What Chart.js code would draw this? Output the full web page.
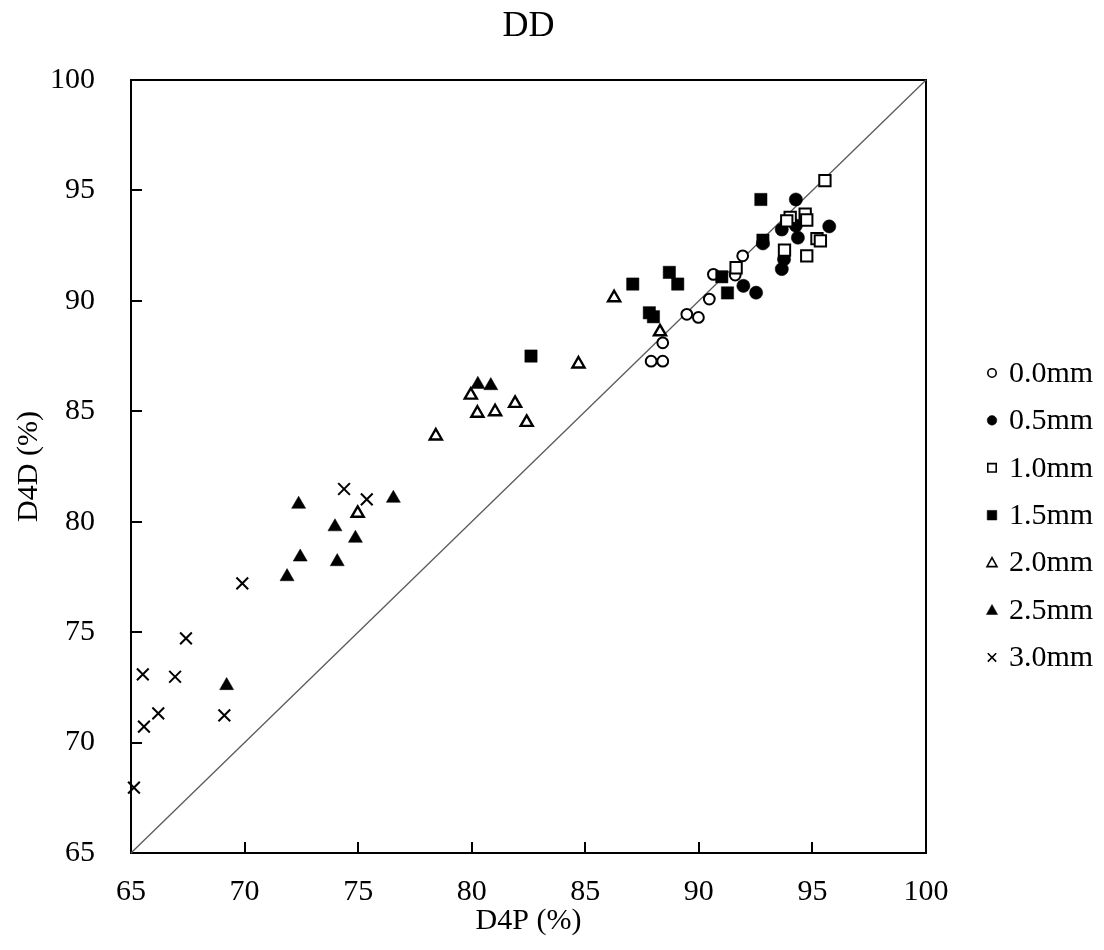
<!DOCTYPE html>
<html><head><meta charset="utf-8">
<script src="https://cdn.jsdelivr.net/npm/chart.js@4.4.0/dist/chart.umd.min.js"></script>
<style>html,body{margin:0;padding:0;background:#fff;}</style>
</head><body>
<canvas id="c" width="1104" height="950"></canvas>
<script>
// ---- data ----
const chartTitle = "DD";
const xTitle = "D4P (%)";
const yTitle = "D4D (%)";
const axisMin = 65, axisMax = 100, axisStep = 5;
const seriesLabels = ["0.0mm","0.5mm","1.0mm","1.5mm","2.0mm","2.5mm","3.0mm"];

const d4p_00 = [91.93, 91.60, 90.64, 90.46, 89.47, 89.98, 88.41, 87.90, 88.41];
const d4d_00 = [92.04, 91.17, 91.20, 90.08, 89.39, 89.25, 88.10, 87.27, 87.27];

const d4p_05 = [94.27, 93.65, 94.27, 94.36, 95.74, 92.82, 93.75, 93.65, 91.96, 92.52];
const d4d_05 = [94.59, 93.23, 93.41, 92.86, 93.37, 92.60, 91.88, 91.44, 90.68, 90.37];

const d4p_10 = [95.55, 94.02, 93.87, 94.68, 94.75, 95.20, 95.35, 93.77, 94.75, 91.64];
const d4d_10 = [95.44, 93.78, 93.62, 93.93, 93.66, 92.82, 92.72, 92.30, 92.04, 91.50];

const d4p_15 = [92.73, 92.82, 91.01, 91.26, 87.09, 88.70, 89.07, 87.82, 88.00, 82.61];
const d4d_15 = [94.59, 92.75, 91.09, 90.36, 90.76, 91.29, 90.76, 89.46, 89.28, 87.50];

const d4p_20 = [88.29, 86.27, 84.70, 79.96, 81.91, 80.25, 81.03, 82.42, 78.42, 74.98];
const d4d_20 = [88.60, 90.14, 87.14, 85.73, 85.36, 84.91, 84.98, 84.50, 83.88, 80.38];

const d4p_25 = [80.27, 80.84, 76.55, 72.38, 73.98, 74.88, 72.45, 74.08, 71.87, 69.21];
const d4d_25 = [86.22, 86.16, 81.06, 80.79, 79.77, 79.25, 78.40, 78.19, 77.51, 72.58];

const d4p_30 = [74.38, 75.38, 69.90, 67.42, 65.52, 66.94, 66.20, 69.11, 65.57, 65.13];
const d4d_30 = [81.48, 81.01, 77.21, 74.72, 73.09, 72.98, 71.32, 71.23, 70.72, 67.96];

const diagX = [65, 100];
const diagY = [65, 100];

// ---- styles ----
const FONT = '"Liberation Serif", "Times New Roman", serif';
const seriesX = [d4p_00, d4p_05, d4p_10, d4p_15, d4p_20, d4p_25, d4p_30];
const seriesY = [d4d_00, d4d_05, d4d_10, d4d_15, d4d_20, d4d_25, d4d_30];
const styles = [
  {ps:'circle',   bg:'#ffffff', bc:'#000000', bw:2,   r:5.4, lr:4.2},
  {ps:'circle',   bg:'#000000', bc:'#000000', bw:0.5, r:6.6, lr:4.8},
  {ps:'rect',     bg:'#ffffff', bc:'#000000', bw:2,   r:8.0, lr:4.2},
  {ps:'rect',     bg:'#000000', bc:'#000000', bw:0.5, r:8.7, lr:4.8},
  {ps:'triangle', bg:'#ffffff', bc:'#000000', bw:2.4, r:7.0, lr:5.0},
  {ps:'triangle', bg:'#000000', bc:'#000000', bw:0.5, r:8.1, lr:5.6},
  {ps:'crossRot', bg:'#000000', bc:'#000000', bw:2,   r:8.3, lr:5.6}
];

const toPts = (xs, ys) => xs.map((v, i) => ({x: v, y: ys[i]}));

const datasets = [{
  label: '_diag',
  data: toPts(diagX, diagY),
  showLine: true, borderColor: '#5a5a5a', borderWidth: 1.3,
  pointRadius: 0, order: 100, clip: false
}];
seriesLabels.forEach((lab, i) => {
  const s = styles[i];
  datasets.push({
    label: lab,
    data: toPts(seriesX[i], seriesY[i]),
    pointStyle: s.ps, pointRadius: s.r, pointHoverRadius: s.r,
    pointBackgroundColor: s.bg, pointBorderColor: s.bc, pointBorderWidth: s.bw,
    backgroundColor: s.bg, borderColor: s.bc,
    showLine: false, order: seriesLabels.length - i, clip: false
  });
});

function drawMarker(ctx, s, x, y) {
  const r = s.lr;
  ctx.save();
  ctx.beginPath();
  ctx.fillStyle = s.bg; ctx.strokeStyle = s.bc;
  ctx.lineWidth = s.ps === 'crossRot' ? 1.6 : (s.bg === '#ffffff' ? 1.6 : 0.5);
  if (s.ps === 'circle') { ctx.arc(x, y, r, 0, Math.PI * 2); ctx.fill(); ctx.stroke(); }
  else if (s.ps === 'rect') { ctx.rect(x - r, y - r, 2 * r, 2 * r); ctx.fill(); ctx.stroke(); }
  else if (s.ps === 'triangle') {
    ctx.moveTo(x, y - r); ctx.lineTo(x + r, y + r * 0.8); ctx.lineTo(x - r, y + r * 0.8); ctx.closePath();
    ctx.fill(); ctx.stroke();
  } else {
    const d = r * 0.75;
    ctx.moveTo(x - d, y - d); ctx.lineTo(x + d, y + d);
    ctx.moveTo(x + d, y - d); ctx.lineTo(x - d, y + d); ctx.stroke();
  }
  ctx.restore();
}

const framePlugin = {
  id: 'framePlugin',
  beforeDatasetsDraw(chart) {
    const {ctx, chartArea: a, scales} = chart;
    ctx.save();
    ctx.strokeStyle = '#000'; ctx.lineWidth = 2;
    ctx.strokeRect(a.left, a.top, a.right - a.left, a.bottom - a.top);
    ctx.lineWidth = 2;
    ctx.beginPath();
    scales.x.ticks.forEach(t => {
      const px = Math.round(scales.x.getPixelForValue(t.value));
      ctx.moveTo(px, a.bottom); ctx.lineTo(px, a.bottom - 11);
    });
    scales.y.ticks.forEach(t => {
      const py = Math.round(scales.y.getPixelForValue(t.value));
      ctx.moveTo(a.left, py); ctx.lineTo(a.left + 11, py);
    });
    ctx.stroke();
    ctx.restore();
  }
};

const legendPlugin = {
  id: 'customLegend',
  afterDraw(chart) {
    const ctx = chart.ctx;
    const items = chart.data.datasets.filter(d => !d.label.startsWith('_'));
    ctx.save();
    ctx.font = '30px ' + FONT;
    ctx.fillStyle = '#000';
    ctx.textBaseline = 'middle';
    ctx.textAlign = 'left';
    items.forEach((d, i) => {
      const y = 373 + i * 47.4;
      drawMarker(ctx, styles[i], 992, y);
      ctx.fillText(d.label, 1009, y + 1);
    });
    ctx.restore();
  }
};

const tickFont = {family: FONT, size: 30};

new Chart(document.getElementById('c'), {
  type: 'scatter',
  data: {datasets},
  options: {
    responsive: false, animation: false,
    layout: {padding: {left: 0, right: 178, top: 0, bottom: 0}},
    plugins: {
      legend: {display: false},
      tooltip: {enabled: false},
      title: {
        display: true, text: chartTitle, fullSize: false,
        color: '#000', font: {family: FONT, size: 36, weight: 'normal'},
        padding: {top: 5, bottom: 31.8}
      }
    },
    scales: {
      x: {
        type: 'linear', min: axisMin, max: axisMax,
        ticks: {stepSize: axisStep, color: '#000', font: tickFont, padding: 13, maxRotation: 0},
        grid: {display: false},
        border: {display: false},
        title: {display: true, text: xTitle, color: '#000', font: {family: FONT, size: 30}, padding: {top: 0, bottom: 11}},
        afterFit(s) { s.height = 97; }
      },
      y: {
        type: 'linear', min: axisMin, max: axisMax,
        ticks: {stepSize: axisStep, color: '#000', font: tickFont, padding: 28},
        grid: {display: false},
        border: {display: false},
        title: {display: true, text: yTitle, color: '#000', font: {family: FONT, size: 30}, padding: {top: 11, bottom: 0}},
        afterFit(s) { s.width = 131; }
      }
    }
  },
  plugins: [framePlugin, legendPlugin]
});
</script>
</body></html>
